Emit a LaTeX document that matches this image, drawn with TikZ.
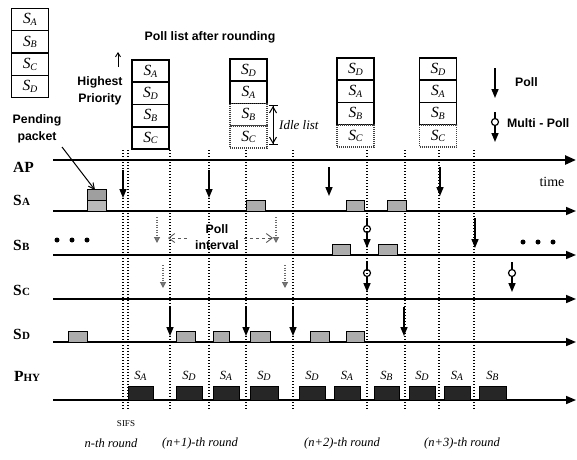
\documentclass[tikz,border=0pt]{standalone}
\usepackage{fontspec}
\setmainfont{Liberation Serif}
\setsansfont{Liberation Sans}
\usetikzlibrary{arrows.meta}
\newcommand{\Sl}[1]{\textit{S\kern-0.3pt\raisebox{-0.25ex}{\fontsize{10}{10}\selectfont #1}}}
\newcommand{\Rl}[1]{S\kern0.3pt{\fontsize{11}{11}\selectfont #1}}
\begin{document}
\begin{tikzpicture}[x=1pt,y=-1pt,
  tl/.style={line width=1.6pt,-{Triangle[length=10pt,width=8pt]}},
  pollarr/.style={line width=1.5pt,-{Triangle[length=9pt,width=7pt]}},
  ghost/.style={gray!85!black,line width=1.1pt,dash pattern=on 1pt off 1.5pt,-{Triangle[length=6pt,width=6pt,fill=gray]}},
  vdot/.style={line width=1.1pt,dash pattern=on 1.1pt off 1.9pt},
  pkt/.style={draw=black,fill=gray!65,line width=0.8pt},
  phy/.style={draw=black,fill=black!85,line width=0.6pt},
  lst/.style={draw,line width=1.2pt,minimum width=37pt,minimum height=22pt,inner sep=0pt,font=\fontsize{15.5}{15}\selectfont},
  idle/.style={lst,draw=black!75,dash pattern=on 1pt off 1pt},
  sansb/.style={font=\sffamily\bfseries\fontsize{12.3}{17.5}\selectfont,align=center,inner sep=0pt},
  rowl/.style={font=\bfseries\fontsize{15.5}{15}\selectfont,anchor=west,inner sep=0pt},
  phyl/.style={font=\fontsize{12.5}{12}\selectfont,inner sep=0pt},
  rnd/.style={font=\itshape\fontsize{12.5}{13}\selectfont,inner sep=0pt},
  mp/.style={circle,draw,line width=1.2pt,minimum size=7pt,inner sep=0pt},
  dotm/.style={circle,fill,minimum size=5pt,inner sep=0pt}]
\useasboundingbox (0,0) rectangle (577,459);

% priority lists
\foreach \L/\cx/\ty/\pa/\pb/\pc/\pd/\ni in {1/30/8.5/A/B/C/D/4, 2/150.5/60/A/D/B/C/4, 3/248.5/59/D/A/B/C/2, 4/355.5/58/D/A/B/C/3, 5/438/58/D/A/B/C/3}{
  \foreach \k/\s in {1/\pa,2/\pb,3/\pc,4/\pd}{
    \ifnum\k>\ni\relax\def\sty{idle}\else\def\sty{lst}\fi
    \node[\sty] (L\L\k) at (\cx,{\ty+11+22.3*(\k-1)}) {\Sl{\s}};
  }
}

% texts at the top
\node[sansb] (plist) at (210,37) {Poll list after rounding};
\node[sansb] (hp) at (100,91) {Highest\\Priority};
\coordinate (hpa0) at (118,67); \coordinate (hpa1) at (118,52);
\draw[line width=0.9pt,-{Straight Barb[length=4pt,width=5pt]}] (hpa0) -- (hpa1);
\node[sansb] (pend) at (37,129) {Pending\\packet};
\coordinate (pp0) at (62,147); \coordinate (pp1) at (95,190);
\draw[line width=1pt,-{Straight Barb[length=6pt,width=6pt]}] (pp0) -- (pp1);

% idle list marker
\coordinate (il0) at (273,105); \coordinate (il1) at (273,145);
\draw[line width=1pt,{Bar[width=9pt]Straight Barb[length=6pt,width=7pt]}-{Straight Barb[length=6pt,width=7pt]Bar[width=9pt]}] (il0) -- (il1);
\node[font=\itshape\fontsize{13}{13}\selectfont,anchor=west,inner sep=0pt] (ilt) at (279,125) {Idle list};

% legend
\coordinate (lg0) at (495,68); \coordinate (lg1) at (495,98);
\draw[pollarr] (lg0) -- (lg1);
\node[sansb,anchor=west] (lgp) at (515,82) {Poll};
\coordinate (lm0) at (495,112); \node[mp] (lmc) at (495,122) {}; \coordinate (lm1) at (495,142);
\draw[line width=1.2pt] (lm0) -- (lmc.north);
\draw[pollarr] (lmc.south) -- (lm1);
\node[sansb,anchor=west] (lgm) at (507,123) {Multi - Poll};

% dotted vertical lines
\foreach \x [count=\i] in {123,128,170,209,246,293,367,405,439,474}{
  \coordinate (vt\i) at (\x,150); \coordinate (vb\i) at (\x,410);
  \draw[vdot] (vt\i) -- (vb\i);
}

% time lines
\coordinate (ap0) at (53,160); \coordinate (ap1) at (576,160);
\draw[line width=2.4pt,-{Triangle[length=11pt,width=9pt]}] (ap0) -- (ap1);
\foreach \n/\y in {sa/211,sb/255,sc/299,sd/342,phy/400}{
  \coordinate (\n0) at (53,\y); \coordinate (\n1) at (576,\y);
  \draw[tl] (\n0) -- (\n1);
}

% row labels
\node[rowl] (rap) at (13,167) {AP};
\node[rowl] (rsa) at (13,200) {\Rl{A}};
\node[rowl] (rsb) at (13,245) {\Rl{B}};
\node[rowl] (rsc) at (13,290) {\Rl{C}};
\node[rowl] (rsd) at (13,334) {\Rl{D}};
\node[rowl] (rphy) at (14,376) {P{\fontsize{11}{11}\selectfont HY}};
\node[font=\fontsize{14}{14}\selectfont,inner sep=0pt] (time) at (552,182) {time};

% polls
\foreach \x/\ya/\yb [count=\i] in {123/170/198, 209/170/198, 329/167/196, 440/167/196, 475/218/248, 170/307/336, 246/307/336, 293/307/336, 404/307/336}{
  \coordinate (pt\i) at (\x,\ya); \coordinate (pb\i) at (\x,\yb);
  \draw[pollarr] (pt\i) -- (pb\i);
}
% multi polls
\foreach \x/\ya [count=\i] in {367/218, 367/262, 512/262}{
  \coordinate (mt\i) at (\x,\ya);
  \node[mp] (mc\i) at (\x,\ya+11) {};
  \coordinate (mb\i) at (\x,\ya+30);
  \draw[line width=1.2pt] (mt\i) -- (mc\i.north);
  \draw[pollarr] (mc\i.south) -- (mb\i);
}
% ghost polls
\foreach \x/\ya/\yb [count=\i] in {157/217/243, 276/217/243, 163/265/288, 285/265/288}{
  \coordinate (gt\i) at (\x,\ya); \coordinate (gb\i) at (\x,\yb);
  \draw[ghost] (gt\i) -- (gb\i);
}
% poll interval
\node[sansb,font=\sffamily\bfseries\fontsize{12.3}{16}\selectfont] (pint) at (217,237) {Poll\\interval};
\coordinate (pil) at (168,238); \coordinate (pir) at (273,238);
\draw[gray!70!black,line width=0.9pt,dash pattern=on 3pt off 3pt,-{Straight Barb[length=6pt,width=9pt]}] (pint.west |- pil) ++(-8,0) coordinate (pil0) -- (pil);
\draw[gray!70!black,line width=0.9pt,dash pattern=on 3pt off 3pt,-{Straight Barb[length=6pt,width=9pt]}] (pint.east |- pir) ++(5,0) coordinate (pir0) -- (pir);

% dots
\foreach \x [count=\i] in {57,72,87}{\node[dotm] (dl\i) at (\x,240) {};}
\foreach \x [count=\i] in {523,538,553}{\node[dotm] (dr\i) at (\x,242) {};}

% pending packets
\path[pkt,fill=gray!75] (87,189) rectangle (106,200);
\path[pkt,fill=gray!55] (87,200) rectangle (106,211);
\foreach \xa/\xb in {246/265, 346/364, 387/406}{\path[pkt] (\xa,200) rectangle (\xb,211);}
\foreach \xa/\xb in {332/350, 378/397}{\path[pkt] (\xa,244) rectangle (\xb,255);}
\foreach \xa/\xb in {68/87, 176/195, 213/229, 250/270, 310/329, 346/364}{\path[pkt] (\xa,331) rectangle (\xb,342);}

% PHY transmissions
\foreach \xa/\xb/\s in {128/153/A, 176/202/D, 213/239/A, 250/278/D, 299/325/D, 334/360/A, 374/399/B, 409/435/D, 444/470/A, 479/506/B}{
  \path[phy] (\xa,386) rectangle (\xb,400);
  \node[phyl] at ({(\xa+\xb)/2},376) {\Sl{\s}};
}

% bottom labels
\node[font=\fontsize{9}{9}\selectfont,inner sep=0pt] (sifs) at (126,424) {SIFS};
\node[rnd] (r0) at (111,443) {n-th round};
\node[rnd] (r1) at (200,443) {(n+1)-th round};
\node[rnd] (r2) at (342,443) {(n+2)-th round};
\node[rnd] (r3) at (462,443) {(n+3)-th round};
\end{tikzpicture}
\end{document}
